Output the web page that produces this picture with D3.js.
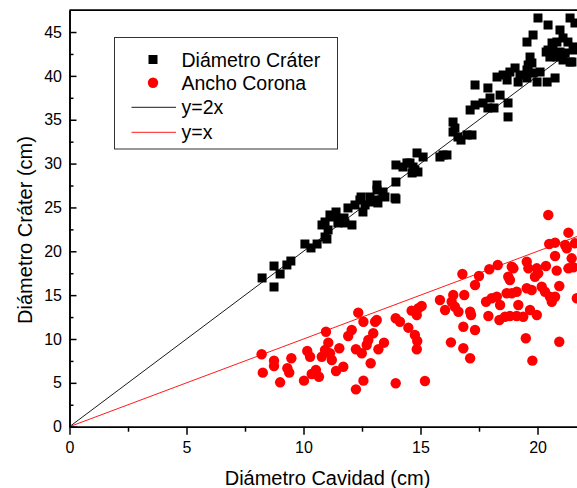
<!DOCTYPE html>
<html>
<head>
<meta charset="utf-8">
<script src="https://cdn.jsdelivr.net/npm/d3@7"></script>
<style>
  html, body { margin: 0; padding: 0; background: #fff; }
  svg { display: block; font-family: "Liberation Sans", Arial, sans-serif; }
</style>
</head>
<body>
<svg id="chart" width="577" height="488"></svg>
<script>
// ---- data ----
const craterX = [8.23,8.74,8.74,9.00,9.29,9.46,10.06,10.32,10.58,10.92,11.00,10.79,11.05,11.22,11.39,10.92,11.56,11.73,12.07,11.90,12.20,12.41,12.54,12.63,12.84,12.93,13.14,13.14,13.18,13.48,13.95,13.95,12.46,13.40,13.95,14.25,14.42,14.55,14.68,14.76,14.64,14.89,14.85,15.11,15.96,16.13,16.39,16.39,16.60,16.99,17.20,17.12,17.33,17.67,17.88,17.97,17.33,17.88,18.74,18.74,18.27,18.53,18.70,18.82,19.04,19.17,19.25,19.55,19.55,19.81,19.76,19.68,20.11,19.98,20.41,20.75,19.55,19.81,20.02,20.45,20.45,20.62,20.83,20.96,21.09,21.30,21.39,21.60,20.53,20.83,21.18,21.39,20.96,21.60,21.09,21.52,19.60,20.37,20.66,21.47,13.14,11.13,11.47,11.77,13.91,15.83,16.73,16.47,18.40,18.14];
const craterY = [16.96,15.93,18.32,17.41,18.44,18.89,20.83,20.38,20.83,21.63,21.40,23.00,22.43,23.91,24.48,23.34,23.57,23.80,23.00,24.94,25.28,25.85,24.48,25.28,26.19,25.62,25.85,27.56,25.51,26.19,27.90,25.96,26.19,26.76,29.84,29.61,30.07,30.07,29.61,29.27,28.93,29.04,31.21,30.75,30.98,30.98,34.74,33.60,33.03,33.26,33.26,36.11,36.68,36.91,36.34,37.48,38.96,38.62,36.91,35.32,39.87,40.10,39.53,40.44,40.90,39.30,40.10,39.76,40.67,40.33,41.47,42.15,40.44,39.30,39.30,39.76,43.86,44.66,46.60,45.80,42.95,43.75,43.86,45.23,44.32,43.86,46.60,46.03,42.15,42.15,42.61,41.58,42.72,43.30,41.81,42.95,41.24,42.72,42.95,41.58,26.99,24.14,23.23,23.23,26.08,30.75,32.68,34.05,37.81,36.34];

const coronaX = [8.21,8.26,8.74,8.74,9.00,9.31,9.39,9.48,10.02,10.16,10.28,10.35,10.53,10.66,10.78,10.96,11.06,10.92,11.21,11.13,11.39,11.53,11.70,11.91,12.06,12.24,12.24,12.34,12.49,12.56,12.56,12.70,12.77,12.87,12.98,13.06,13.13,13.20,13.44,13.94,13.94,14.12,14.48,14.62,14.76,14.84,14.91,20.46,21.32,20.50,20.75,21.18,21.25,21.60,20.75,21.46,21.32,21.53,20.82,20.36,19.97,19.89,20.03,19.54,19.61,19.54,19.75,20.18,20.32,20.53,20.61,20.75,20.93,21.68,20.93,19.78,19.50,19.68,19.97,19.39,19.18,19.11,18.82,18.61,18.37,18.90,19.11,18.68,18.75,18.82,18.97,18.90,18.30,17.94,18.40,18.26,18.04,17.80,17.90,17.50,17.33,16.79,16.87,17.12,17.16,16.40,16.33,16.47,16.62,15.83,16.05,16.83,17.33,16.83,17.12,16.30,15.19,15.05,14.84,14.86];
const coronaY = [8.26,6.16,7.53,6.92,5.06,6.66,6.16,7.80,5.25,8.63,7.98,6.01,6.47,5.70,7.98,10.83,9.58,8.75,7.61,8.37,6.35,8.94,6.84,10.34,11.03,8.83,4.26,13.00,8.37,11.97,5.25,9.32,9.89,7.23,10.65,11.97,12.17,8.83,9.58,12.36,4.95,11.97,11.29,13.23,10.46,8.83,13.50,24.14,22.12,20.83,20.98,20.72,20.34,20.91,19.46,19.20,18.06,18.18,17.79,18.32,18.06,17.10,17.49,18.81,18.06,15.78,15.59,15.96,15.39,14.82,14.25,14.82,16.04,14.64,9.69,7.53,10.08,13.31,12.74,12.54,13.88,12.62,12.62,12.54,12.17,15.21,15.39,15.21,17.10,16.73,18.06,18.24,18.44,17.95,13.88,14.82,14.64,14.25,12.62,17.18,16.16,17.41,15.02,13.11,12.74,15.02,14.25,13.68,13.11,14.45,13.31,11.40,11.03,8.94,7.80,9.62,5.21,13.76,12.74,9.77];

const xMajorTicks = [0, 5, 10, 15, 20];
const xMinorTicks = [2.5, 7.5, 12.5, 17.5];
const yMajorTicks = [0, 5, 10, 15, 20, 25, 30, 35, 40, 45];
const yMinorTicks = [2.5, 7.5, 12.5, 17.5, 22.5, 27.5, 32.5, 37.5, 42.5];
const lineSlopes = [2, 1];
const lineLabels = ["y=2x", "y=x"];
const seriesNames = ["Diámetro Cráter", "Ancho Corona"];
const xTitle = "Diámetro Cavidad (cm)";
const yTitle = "Diámetro Cráter (cm)";

// ---- layout ----
const svg = d3.select("#chart");
const x = d3.scaleLinear().domain([0, 21.7]).range([69.5, 577.3]);
const y = d3.scaleLinear().domain([0, 47.5]).range([426.7, 10.1]);

// scatter: squares
const sq = 9;
svg.append("g").selectAll("rect").data(craterX.map((v, i) => [v, craterY[i]]))
  .join("rect")
  .attr("x", d => x(d[0]) - sq / 2).attr("y", d => y(d[1]) - sq / 2)
  .attr("width", sq).attr("height", sq).attr("fill", "#000");

// scatter: circles
svg.append("g").selectAll("circle").data(coronaX.map((v, i) => [v, coronaY[i]]))
  .join("circle")
  .attr("cx", d => x(d[0])).attr("cy", d => y(d[1])).attr("r", 5.2)
  .attr("fill", "#ff0000");

// reference lines
const lineColors = ["#000", "#ff0000"];
lineSlopes.forEach((s, i) => {
  const xEnd = 21.7;
  svg.append("line")
    .attr("x1", x(0)).attr("y1", y(0))
    .attr("x2", x(xEnd)).attr("y2", y(s * xEnd))
    .attr("stroke", lineColors[i]).attr("stroke-width", 0.9);
});

// axes
const axisStyle = g => {
  g.select(".domain").attr("stroke", "#000").attr("stroke-width", 1.6);
  g.selectAll(".tick line").attr("stroke", "#000").attr("stroke-width", 1.5);
  g.selectAll("text").attr("fill", "#000").style("font-size", "16px")
    .style("font-family", '"Liberation Sans", Arial, sans-serif');
};

svg.append("g").attr("transform", `translate(0,${y(0)})`)
  .call(d3.axisBottom(x).tickValues(xMinorTicks).tickSize(5).tickSizeOuter(0).tickFormat(""))
  .call(axisStyle);
svg.append("g").attr("transform", `translate(0,${y(0)})`)
  .call(d3.axisBottom(x).tickValues(xMajorTicks).tickSize(8).tickSizeOuter(0).tickPadding(7).tickFormat(d3.format("d")))
  .call(axisStyle);

svg.append("g").attr("transform", `translate(${x(0)},0)`)
  .call(d3.axisLeft(y).tickValues(yMinorTicks).tickSize(-4).tickSizeOuter(0).tickFormat(""))
  .call(axisStyle);
svg.append("g").attr("transform", `translate(${x(0)},0)`)
  .call(d3.axisLeft(y).tickValues(yMajorTicks).tickSize(-7).tickSizeOuter(0).tickPadding(7.5).tickFormat(d3.format("d")))
  .call(axisStyle);

// top frame line
svg.append("line").attr("x1", x(0)).attr("x2", 577).attr("y1", y(47.5)).attr("y2", y(47.5))
  .attr("stroke", "#000").attr("stroke-width", 1.6);

// axis titles
svg.append("text").attr("x", 327.5).attr("y", 484.5).attr("text-anchor", "middle")
  .style("font-size", "20px").text(xTitle);
svg.append("text").attr("transform", "translate(31.5,230) rotate(-90)").attr("text-anchor", "middle")
  .style("font-size", "20px").text(yTitle);

// legend
const lg = svg.append("g");
lg.append("rect").attr("x", 114.5).attr("y", 37.5).attr("width", 223).attr("height", 111.5)
  .attr("fill", "#fff").attr("stroke", "#333").attr("stroke-width", 1);
const rowY = [59.5, 82.7, 107.3, 132.3];
lg.append("rect").attr("x", 153 - 4.5).attr("y", rowY[0] - 4.5).attr("width", 9).attr("height", 9).attr("fill", "#000");
lg.append("circle").attr("cx", 153).attr("cy", rowY[1]).attr("r", 5.2).attr("fill", "#ff0000");
lineSlopes.forEach((s, i) => {
  lg.append("line").attr("x1", 131.5).attr("x2", 176).attr("y1", rowY[2 + i]).attr("y2", rowY[2 + i])
    .attr("stroke", lineColors[i]).attr("stroke-width", 0.9);
});
const legendTexts = seriesNames.concat(lineLabels);
legendTexts.forEach((t, i) => {
  lg.append("text").attr("x", 181.5).attr("y", rowY[i]).attr("dy", "0.36em")
    .style("font-size", "19.5px").text(t);
});
</script>
</body>
</html>
